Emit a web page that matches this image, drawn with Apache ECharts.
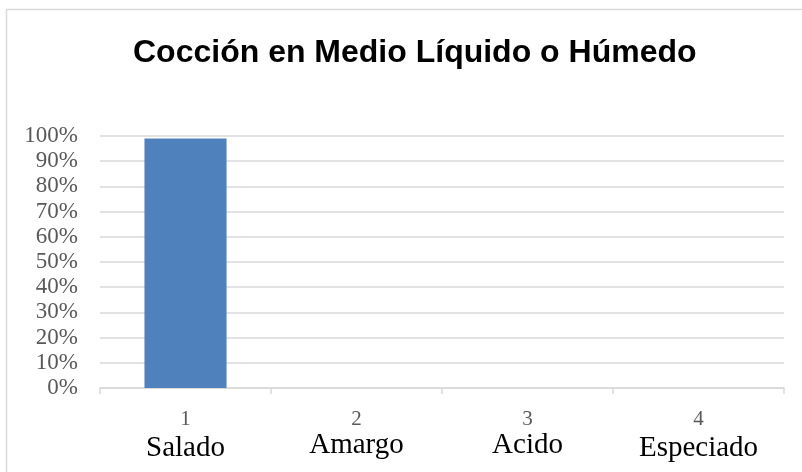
<!DOCTYPE html>
<html>
<head>
<meta charset="utf-8">
<script src="https://cdn.jsdelivr.net/npm/echarts@6/dist/echarts.min.js"></script>
<style>
html,body{margin:0;padding:0;background:#fff;}
#chart{width:802px;height:472px;}
</style>
</head>
<body>
<div id="chart"></div>
<script>
var tituloTexto = 'Cocción en Medio Líquido o Húmedo';
var numeros = ['1', '2', '3', '4'];
var sabores = ['Salado', 'Amargo', 'Acido', 'Especiado'];
var valores = [0.99, 0, 0, 0];

var chart = echarts.init(document.getElementById('chart'));
var option = {
    animation: false,
    backgroundColor: '#fff',
    title: {
        text: tituloTexto,
        left: 128,
        top: 32,
        textStyle: {
            fontFamily: 'Liberation Sans, Arial',
            fontWeight: 'bold',
            fontSize: 32,
            color: '#000'
        }
    },
    graphic: [{
        type: 'rect',
        shape: {x: 6.5, y: 9.5, width: 800, height: 470},
        style: {fill: 'none', stroke: '#d9d9d9', lineWidth: 1.5},
        silent: true
    }],
    grid: {
        left: 100,
        right: 18,
        top: 136,
        bottom: 84
    },
    xAxis: {
        type: 'category',
        data: numeros.map(function (n, i) { return n + '|' + sabores[i]; }),
        axisLine: {lineStyle: {color: '#d9d9d9', width: 1.5}},
        axisTick: {show: true, length: 6, lineStyle: {color: '#d9d9d9', width: 1.5}},
        axisLabel: {
            margin: 18,
            formatter: function (v, idx) {
                var p = v.split('|');
                // los del medio quedan un poco más arriba en el original
                var st = (idx === 1 || idx === 2) ? 'c2' : 'c';
                return '{n|' + p[0] + '}\n{' + st + '|' + p[1] + '}';
            },
            rich: {
                n: {fontFamily: 'Liberation Serif, Times New Roman', fontSize: 21, color: '#595959', lineHeight: 26},
                c: {fontFamily: 'Liberation Serif, Times New Roman', fontSize: 29, color: '#000', lineHeight: 32},
                c2: {fontFamily: 'Liberation Serif, Times New Roman', fontSize: 29, color: '#000', lineHeight: 26}
            }
        }
    },
    yAxis: {
        type: 'value',
        min: 0,
        max: 1,
        interval: 0.1,
        axisLine: {show: false},
        axisTick: {show: false},
        splitLine: {lineStyle: {color: '#d9d9d9', width: 1.5}},
        axisLabel: {
            margin: 22,
            fontFamily: 'Liberation Serif, Times New Roman',
            fontSize: 23,
            color: '#595959',
            formatter: function (v) { return Math.round(v * 100) + '%'; }
        }
    },
    series: [{
        type: 'bar',
        data: valores,
        barWidth: '48%',
        itemStyle: {color: '#4f81bd'}
    }]
};
chart.setOption(option);
</script>
</body>
</html>
